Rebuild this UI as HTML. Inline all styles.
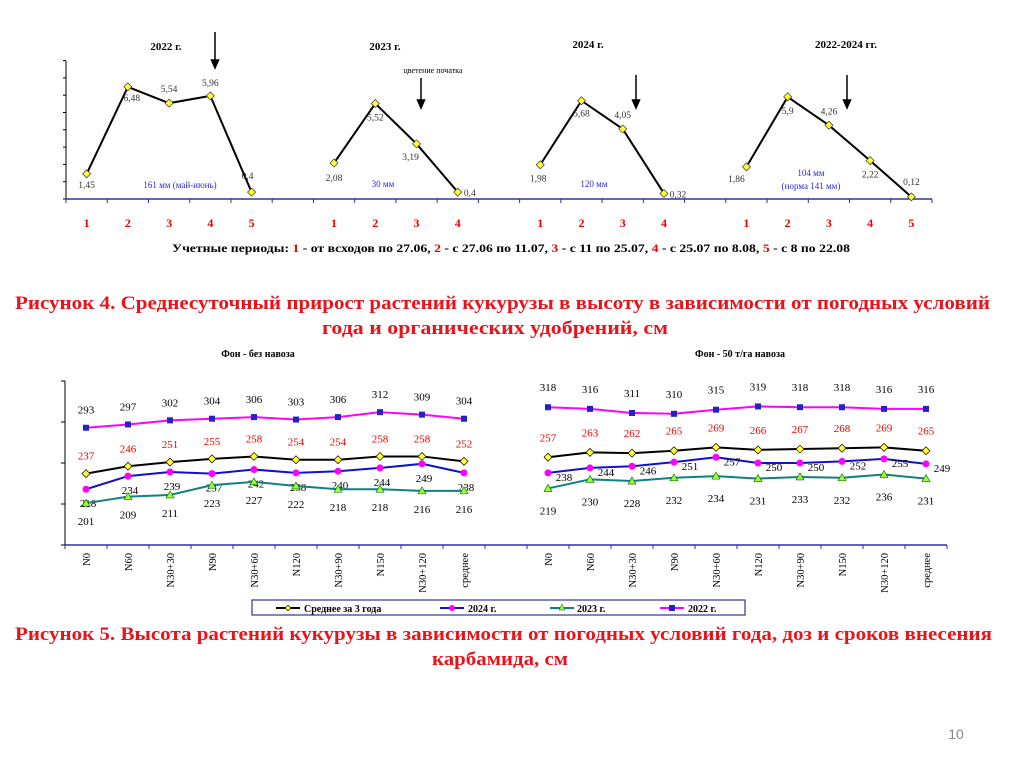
<!DOCTYPE html>
<html><head><meta charset="utf-8"><style>
body{margin:0;background:#fff;width:1024px;height:767px;overflow:hidden}
svg{display:block;font-family:"Liberation Serif","DejaVu Serif",serif}
</style></head><body>
<svg id="s" width="1024" height="767" viewBox="0 0 1024 767">
<g id="topChart">
<text x="166" y="50" font-size="11" font-weight="bold" text-anchor="middle">2022 г.</text>
<text x="385" y="50" font-size="11" font-weight="bold" text-anchor="middle">2023 г.</text>
<text x="588" y="48" font-size="11" font-weight="bold" text-anchor="middle">2024 г.</text>
<text x="846" y="48" font-size="11" font-weight="bold" text-anchor="middle">2022-2024 гг.</text>
<text x="433" y="73" font-size="8" text-anchor="middle">цветение початка</text>
<text x="180" y="188" font-size="9" fill="#2b2bd0" text-anchor="middle">161 мм (май-июнь)</text>
<text x="383" y="187" font-size="9" fill="#2b2bd0" text-anchor="middle">30 мм</text>
<text x="594" y="187" font-size="9" fill="#2b2bd0" text-anchor="middle">120 мм</text>
<text x="811" y="176" font-size="9" fill="#2b2bd0" text-anchor="middle">104 мм</text>
<text x="811" y="189" font-size="9" fill="#2b2bd0" text-anchor="middle">(норма 141 мм)</text>
<text x="172" y="252" font-size="12" font-weight="bold" textLength="678" lengthAdjust="spacingAndGlyphs">Учетные периоды: <tspan fill="#e00">1</tspan> - от всходов по 27.06, <tspan fill="#e00">2</tspan> - с 27.06 по 11.07, <tspan fill="#e00">3</tspan> - с 11 по 25.07, <tspan fill="#e00">4</tspan> - с 25.07 по 8.08, <tspan fill="#e00">5</tspan> - с 8 по 22.08</text>
</g>
<text x="15" y="309" font-size="19" font-weight="bold" fill="#e8141b" textLength="975" lengthAdjust="spacingAndGlyphs">Рисунок 4. Среднесуточный прирост растений кукурузы в высоту в зависимости от погодных условий</text>
<text x="322" y="334" font-size="19" font-weight="bold" fill="#e8141b" textLength="346" lengthAdjust="spacingAndGlyphs">года и органических удобрений, см</text>
<g id="botChart">
<text x="258" y="357" font-size="10" font-weight="bold" text-anchor="middle">Фон - без навоза</text>
<text x="740" y="357" font-size="10" font-weight="bold" text-anchor="middle">Фон - 50 т/га навоза</text>
</g>
<g>
<rect x="252" y="600" width="493" height="15" fill="#fff" stroke="#33339a" stroke-width="1.2"/>
<g><line x1="276" y1="608" x2="300" y2="608" stroke="#000" stroke-width="2"/><path d="M288 605 L291 608 L288 611 L285 608Z" fill="#ff0" stroke="#000" stroke-width=".6"/><text x="304" y="612" font-size="10" font-weight="bold">Среднее за 3 года</text></g>
<g><line x1="440" y1="608" x2="464" y2="608" stroke="#1010d0" stroke-width="2"/><circle cx="452" cy="608" r="3" fill="#f0f"/><text x="468" y="612" font-size="10" font-weight="bold">2024 г.</text></g>
<g><line x1="550" y1="608" x2="574" y2="608" stroke="#108080" stroke-width="2"/><path d="M562 604 L565 610 L559 610Z" fill="#9f3" stroke="#060" stroke-width=".5"/><text x="577" y="612" font-size="10" font-weight="bold">2023 г.</text></g>
<g><line x1="660" y1="608" x2="684" y2="608" stroke="#f0f" stroke-width="2"/><rect x="669" y="605" width="6" height="6" fill="#22c"/><text x="688" y="612" font-size="10" font-weight="bold">2022 г.</text></g>
</g>
<text x="15" y="640" font-size="19" font-weight="bold" fill="#e8141b" textLength="977" lengthAdjust="spacingAndGlyphs">Рисунок 5. Высота растений кукурузы в зависимости от погодных условий года, доз и сроков внесения</text>
<text x="432" y="665" font-size="19" font-weight="bold" fill="#e8141b" textLength="136" lengthAdjust="spacingAndGlyphs">карбамида, см</text>
<text x="956" y="739" font-size="14" fill="#888" font-family="Liberation Sans,sans-serif" text-anchor="middle">10</text>
</svg>
<script>
// ---- top chart data ----
const topPeriods=["1","2","3","4","5","","1","2","3","4","","1","2","3","4","","1","2","3","4","5"];
const g2022=[1.45,6.48,5.54,5.96,0.4];
const g2023=[2.08,5.52,3.19,0.4];
const g2024=[1.98,5.68,4.05,0.32];
const gAvg=[1.86,5.9,4.26,2.22,0.12];
// ---- bottom chart data ----
const cats=["N0","N60","N30+30","N90","N30+60","N120","N30+90","N150","N30+120","среднее"];
const L2022=[293,297,302,304,306,303,306,312,309,304];
const Lavg=[237,246,251,255,258,254,254,258,258,252];
const L2024=[218,234,239,237,242,238,240,244,249,238];
const L2023=[201,209,211,223,227,222,218,218,216,216];
const R2022=[318,316,311,310,315,319,318,318,316,316];
const Ravg=[257,263,262,265,269,266,267,268,269,265];
const R2024=[238,244,246,251,257,250,250,252,255,249];
const R2023=[219,230,228,232,234,231,233,232,236,231];

const NS="http://www.w3.org/2000/svg";
function mk(parent,tag,attrs,txt){const el=document.createElementNS(NS,tag);for(const k in attrs)el.setAttribute(k,attrs[k]);if(txt!==undefined)el.textContent=txt;parent.appendChild(el);return el;}

const topG=document.getElementById('topChart');
const tx0=66,tx1=932,tBase=199,tK=17.3;
const tX=i=>tx0+(tx1-tx0)/topPeriods.length*(i+0.5);
const tY=v=>tBase-tK*v;
let el;
el=mk(topG,'line',{x1:tx0,y1:61,x2:tx0,y2:tBase,stroke:'#000','stroke-width':1});


for(let v=0;v<=8;v++){mk(topG,'line',{x1:tx0-3,y1:tY(v),x2:tx0,y2:tY(v),stroke:'#000'});}
el=mk(topG,'line',{x1:tx0,y1:tBase,x2:tx1,y2:tBase,stroke:'#3030a0','stroke-width':1.5});


for(let i=0;i<=topPeriods.length;i++){const x=tx0+(tx1-tx0)/topPeriods.length*i;mk(topG,'line',{x1:x,y1:tBase,x2:x,y2:tBase+4,stroke:'#3030a0'});}
topPeriods.forEach((p,i)=>{if(!p)return;el=mk(topG,'text',{x:tX(i),y:227,'font-size':12,'font-weight':'bold',fill:'#e00','text-anchor':'middle'},p);

});
const topSeries=[[g2022,0,[[0,14],[4,14],[0,-11],[0,-10],[-4,-13]],'growth-2022'],[g2023,6,[[0,18],[0,17],[-6,16],[12,4]],'growth-2023'],[g2024,11,[[-2,17],[0,16],[0,-11],[14,4]],'growth-2024'],[gAvg,16,[[-10,15],[0,17],[0,-11],[0,17],[0,-12]],'growth-avg']];
topSeries.forEach(([d,s,off,nm])=>{
 const pts=d.map((v,i)=>tX(s+i)+','+tY(v)).join(' ');
 el=mk(topG,'polyline',{points:pts,fill:'none',stroke:'#000','stroke-width':2});
 
 
 d.forEach((v,i)=>{const x=tX(s+i),y=tY(v);
  el=mk(topG,'path',{d:`M${x} ${y-4}L${x+4} ${y}L${x} ${y+4}L${x-4} ${y}Z`,fill:'#ff3',stroke:'#333','stroke-width':.7});
  
  
  const o=off[i]||[0,-10];
  el=mk(topG,'text',{x:x+o[0],y:y+o[1],'font-size':9.5,fill:'#333','text-anchor':'middle'},String(v).replace('.',','));
  
  });
});
[[215,32,68],[421,78,108],[636,75,108],[847,75,108]].forEach(a=>{
 el=mk(topG,'path',{d:`M${a[0]} ${a[1]}V${a[2]-7}M${a[0]-3.5} ${a[2]-8}L${a[0]} ${a[2]}L${a[0]+3.5} ${a[2]-8}Z`,stroke:'#000','stroke-width':1.5,fill:'#000'});
 
 });

const botG=document.getElementById('botChart');
const bY=v=>545-(v-150)*0.82;
const bw=42;
const lX=i=>65+bw*(i+0.5), rX=i=>527+bw*(i+0.5);
el=mk(botG,'line',{x1:65,y1:381,x2:65,y2:545,stroke:'#000'});


for(let v=150;v<=350;v+=50)mk(botG,'line',{x1:61,y1:bY(v),x2:65,y2:bY(v),stroke:'#000'});
el=mk(botG,'line',{x1:65,y1:545,x2:947,y2:545,stroke:'#3030a0','stroke-width':1.5});


for(let i=0;i<=10;i++){mk(botG,'line',{x1:65+bw*i,y1:545,x2:65+bw*i,y2:549,stroke:'#3030a0'});mk(botG,'line',{x1:527+bw*i,y1:545,x2:527+bw*i,y2:549,stroke:'#3030a0'});}
cats.forEach((c,i)=>{[lX(i),rX(i)].forEach(x=>{
 el=mk(botG,'text',{x:0,y:0,'font-size':10.5,'text-anchor':'end',transform:`translate(${x+4},553) rotate(-90)`},c);
 
 });});
function marker(x,y,type){
 if(type==='sq')return mk(botG,'rect',{x:x-3,y:y-3,width:6,height:6,fill:'#22c'});
 if(type==='ci')return mk(botG,'circle',{cx:x,cy:y,r:3.5,fill:'#f0f'});
 if(type==='tr')return mk(botG,'path',{d:`M${x} ${y-4}L${x+4} ${y+3}L${x-4} ${y+3}Z`,fill:'#9f3',stroke:'#060','stroke-width':.6});
 return mk(botG,'path',{d:`M${x} ${y-4}L${x+4} ${y}L${x} ${y+4}L${x-4} ${y}Z`,fill:'#ff3',stroke:'#000','stroke-width':.7});
}
const bSeries=[
 [L2022,lX,'#f0f','sq','#000',[0,-18],'left-2022'],
 [Lavg,lX,'#000','di','#e00',[0,-18],'left-avg'],
 [L2024,lX,'#1010d0','ci','#000',[2,14],'left-2024'],
 [L2023,lX,'#108080','tr','#000',[0,18],'left-2023'],
 [R2022,rX,'#f0f','sq','#000',[0,-20],'right-2022'],
 [Ravg,rX,'#000','di','#e00',[0,-20],'right-avg'],
 [R2024,rX,'#1010d0','ci','#000',[16,4],'right-2024'],
 [R2023,rX,'#108080','tr','#000',[0,22],'right-2023']];
bSeries.forEach(([d,fx,col,mt,lc,off,nm])=>{
 el=mk(botG,'polyline',{points:d.map((v,i)=>fx(i)+','+bY(v)).join(' '),fill:'none',stroke:col,'stroke-width':2});
 
 
 d.forEach((v,i)=>{const x=fx(i),y=bY(v);
  el=marker(x,y,mt);
  
  
  el=mk(botG,'text',{x:x+off[0],y:y+off[1]+4,'font-size':11,fill:lc,'text-anchor':'middle'},String(v));
  
  });
});
</script>
</body></html>
